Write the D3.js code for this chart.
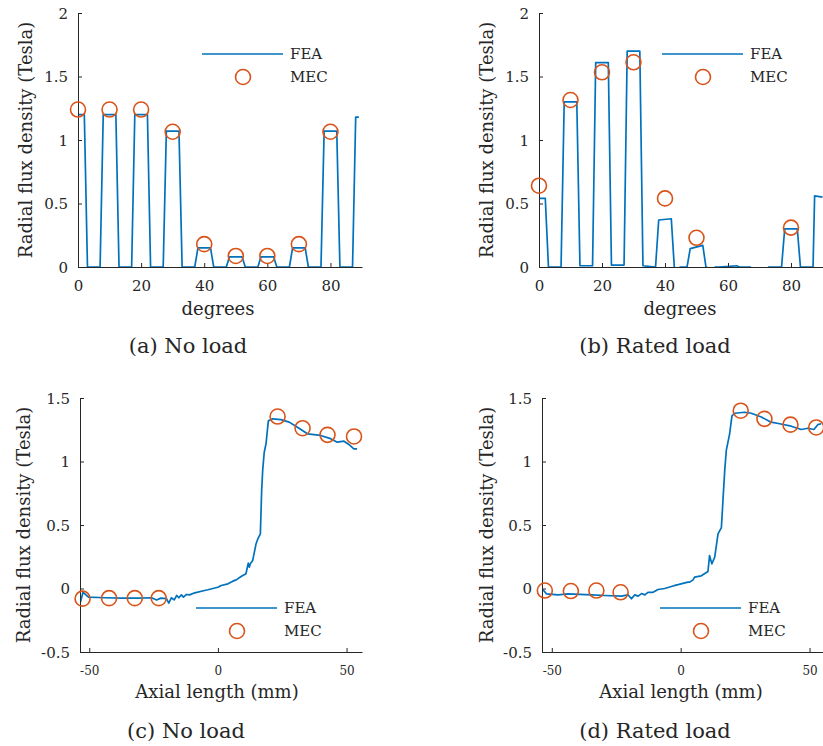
<!DOCTYPE html>
<html>
<head>
<meta charset="utf-8">
<script src="https://cdnjs.cloudflare.com/ajax/libs/d3/7.8.5/d3.min.js"></script>
<style>
  body { margin: 0; background: #fff; }
  text { font-family: "DejaVu Serif", "Liberation Serif", serif; fill: #262626; }
</style>
</head>
<body>
<svg id="chart" width="823" height="746"></svg>
<script>
// ---- data ----
var angleTicks = [0, 20, 40, 60, 80];
var angleFluxTicks = [0, 0.5, 1, 1.5, 2];
var axialTicks = [-50, 0, 50];
var axialFluxTicks = [-0.5, 0, 0.5, 1, 1.5];

// (a) no load, radial flux vs angle
var noLoadAngle = [0, 2, 3, 7, 8, 12, 13, 17, 18, 22, 23, 27, 28, 32, 33, 37, 38, 42, 43, 47,
    48, 52, 53, 57, 58, 62, 63, 67, 68, 72, 73, 77, 78, 82, 83, 87, 88, 89];
var noLoadFEA = [1.2, 1.2, 0, 0, 1.2, 1.2, 0, 0, 1.2, 1.2, 0, 0, 1.07, 1.07, 0, 0, 0.15, 0.15, 0, 0,
    0.08, 0.08, 0, 0, 0.08, 0.08, 0, 0, 0.15, 0.15, 0, 0, 1.07, 1.07, 0, 0, 1.18, 1.18];
var noLoadMecAngle = [0, 10, 20, 30, 40, 50, 60, 70, 80];
var noLoadMEC = [1.24, 1.24, 1.24, 1.065, 0.18, 0.087, 0.087, 0.18, 1.065];

// (b) rated load, radial flux vs angle
var ratedAngle = [0, 2, 3, 7, 8, 12, 13, 17, 18, 22, 23, 27, 28, 32, 33, 37, 38, 42, 43, 45,
    47, 48, 52, 53, 55, 56, 57, 60.5, 62.7, 63.7, 67, 68, 72, 73, 77, 78, 82, 83, 87, 87.5, 90];
var ratedFEA = [0.54, 0.54, 0, 0, 1.3, 1.3, 0.01, 0.01, 1.61, 1.61, 0.015, 0.015, 1.7, 1.7, 0.01, 0, 0.37, 0.38, -0.02, 0,
    0, 0.145, 0.17, 0, -0.02, 0, 0, 0.005, 0.01, 0, 0, -0.02, -0.02, 0, 0, 0.3, 0.3, 0, 0, 0.56, 0.55];
var ratedMecAngle = [0, 10, 20, 30, 40, 50, 80];
var ratedMEC = [0.64, 1.315, 1.533, 1.612, 0.54, 0.23, 0.31];

// (c) no load, radial flux vs axial length
var axialNoLoadPos = [-53.5, -52.4, -50.3, -43.8, -37.4, -30.9, -25.8, -23.8, -22.2, -20, -19.1, -18.1, -17, -16,
    -15.2, -14.2, -13.4, -12.2, -11, -9, -5.2, -3.9, 0, 1.3, 3.9, 5.8, 7.1, 9, 10.9, 11.8, 12.2, 12.6, 13.5,
    14.8, 15.5, 16.5, 17, 17.4, 18, 18.7, 19.6, 21.3, 24.5, 27.7, 30.9, 34.8, 39.9, 43.8, 46.4, 49, 50.9, 52.8, 54.1];
var axialNoLoadFEA = [-0.11, -0.03, -0.068, -0.073, -0.076, -0.076, -0.073, -0.09, -0.076, -0.08, -0.115, -0.073, -0.09, -0.055,
    -0.073, -0.05, -0.068, -0.047, -0.05, -0.034, -0.016, -0.01, 0.01, 0.024, 0.037, 0.058, 0.068, 0.094, 0.116, 0.2, 0.168, 0.194, 0.22,
    0.35, 0.39, 0.43, 0.77, 0.93, 1.073, 1.14, 1.32, 1.336, 1.33, 1.31, 1.27, 1.218, 1.205, 1.18, 1.152, 1.16, 1.134, 1.1, 1.1];
var axialNoLoadMecPos = [-52.6, -42.3, -32.3, -23, 23.2, 32.9, 42.6, 52.9];
var axialNoLoadMEC = [-0.08, -0.076, -0.076, -0.076, 1.354, 1.262, 1.21, 1.197];

// (d) rated load, radial flux vs axial length
var axialRatedPos = [-53.4, -52.1, -47.6, -43.7, -34.6, -29.5, -23, -20.4, -19.1, -17.8, -16.5, -15.2, -13.9, -12.7,
    -10.7, -8.8, -6.2, -2.3, -1, 2.8, 3.5, 4.8, 5.4, 8, 10.6, 11.2, 12.1, 13.2, 14.5, 15.8, 16.4, 17.1, 17.7,
    19, 19.9, 20.9, 24.8, 27.4, 31.3, 35.1, 38.4, 42.9, 46.8, 49.3, 51.7, 53.2, 54.5];
var axialRatedFEA = [-0.01, -0.042, -0.05, -0.042, -0.05, -0.055, -0.06, -0.05, -0.081, -0.05, -0.06, -0.04, -0.05, -0.03,
    -0.03, -0.008, 0, 0.024, 0.03, 0.05, 0.05, 0.068, 0.09, 0.1, 0.134, 0.26, 0.194, 0.246, 0.43, 0.48, 0.69, 0.93, 1.087,
    1.218, 1.36, 1.38, 1.388, 1.38, 1.35, 1.31, 1.297, 1.278, 1.252, 1.262, 1.252, 1.29, 1.297];
var axialRatedMecPos = [-52.7, -42.6, -32.7, -23.3, 23.3, 32.5, 42.6, 52.6];
var axialRatedMEC = [-0.016, -0.02, -0.016, -0.03, 1.4, 1.336, 1.29, 1.268];

var feaColor = "#0072BD";
var mecColor = "#D95319";
var axisColor = "#262626";

var svg = d3.select("#chart");
svg.append("rect").attr("width", 823).attr("height", 746).attr("fill", "#fff");

function fmt(v) {
    return String(v);
}

function drawPanel(p) {
    var x = d3.scaleLinear().domain(p.xDomain).range(p.xRange);
    var y = d3.scaleLinear().domain(p.yDomain).range(p.yRange);
    var g = svg.append("g").attr("id", p.id);

    var clipId = "clip-" + p.id;
    g.append("clipPath").attr("id", clipId)
        .append("rect")
        .attr("x", p.xRange[0])
        .attr("y", p.yRange[1])
        .attr("width", p.xRange[1] - p.xRange[0] + 2)
        .attr("height", p.yRange[0] - p.yRange[1]);

    var pts = p.feaX.map(function (d, i) { return [d, p.feaY[i]]; });
    var line = d3.line().x(function (d) { return x(d[0]); }).y(function (d) { return y(d[1]); });

    g.append("path")
        .datum(pts)
        .attr("clip-path", "url(#" + clipId + ")")
        .attr("fill", "none")
        .attr("stroke", feaColor)
        .attr("stroke-width", 1.7)
        .attr("stroke-linejoin", "round")
        .attr("d", line);

    // axes: left and bottom only, ticks pointing inward
    var xAxis = d3.axisBottom(x).tickValues(p.xTicks).tickSizeInner(-4).tickSizeOuter(0).tickFormat(fmt);
    var yAxis = d3.axisLeft(y).tickValues(p.yTicks).tickSizeInner(-4).tickSizeOuter(0).tickFormat(fmt);

    var gx = g.append("g").attr("transform", "translate(0," + p.yRange[0] + ")").call(xAxis);
    var gy = g.append("g").attr("transform", "translate(" + p.xRange[0] + ",0)").call(yAxis);

    [gx, gy].forEach(function (a) {
        a.select(".domain").attr("stroke", axisColor).attr("stroke-width", 1);
        a.selectAll(".tick line").attr("stroke", axisColor).attr("stroke-width", 1);
        a.selectAll("text").attr("fill", axisColor).attr("font-family", null);
    });
    gx.selectAll("text").attr("font-size", p.xTickSize).attr("y", p.xTickDy).attr("dy", "0.35em");
    gy.selectAll("text").attr("font-size", 15).attr("x", -10).attr("dy", "0.35em");

    // MEC markers
    g.selectAll("circle.mec")
        .data(p.mecX.map(function (d, i) { return [d, p.mecY[i]]; }))
        .enter().append("circle")
        .attr("class", "mec")
        .attr("cx", function (d) { return x(d[0]); })
        .attr("cy", function (d) { return y(d[1]); })
        .attr("r", 7.5)
        .attr("fill", "none")
        .attr("stroke", mecColor)
        .attr("stroke-width", 1.6);

    // legend
    var lg = g.append("g").attr("transform", "translate(" + p.legend[0] + "," + p.legend[1] + ")");
    lg.append("line")
        .attr("x1", 0).attr("x2", 81).attr("y1", 0).attr("y2", 0)
        .attr("stroke", feaColor).attr("stroke-width", 1.7);
    lg.append("text").attr("x", 88).attr("y", 0).attr("dy", "0.35em")
        .attr("font-size", 15).attr("fill", "#000").text("FEA");
    lg.append("circle").attr("cx", 41).attr("cy", 23).attr("r", 7.5)
        .attr("fill", "none").attr("stroke", mecColor).attr("stroke-width", 1.6);
    lg.append("text").attr("x", 88).attr("y", 23).attr("dy", "0.35em")
        .attr("font-size", 15).attr("fill", "#000").text("MEC");

    // axis titles and caption
    var midY = (p.yRange[0] + p.yRange[1]) / 2;
    g.append("text")
        .attr("transform", "translate(" + p.yLabelX + "," + midY + ") rotate(-90)")
        .attr("text-anchor", "middle")
        .attr("dy", "0.35em")
        .attr("font-size", 18)
        .text("Radial flux density (Tesla)");

    g.append("text")
        .attr("x", p.labelX).attr("y", p.xLabelY)
        .attr("text-anchor", "middle").attr("dy", "0.35em")
        .attr("font-size", 18)
        .text(p.xLabel);

    g.append("text")
        .attr("x", p.captionX).attr("y", p.captionY)
        .attr("text-anchor", "middle").attr("dy", "0.35em")
        .attr("font-size", 21)
        .attr("fill", "#000")
        .text(p.caption);
}

drawPanel({
    id: "a", xDomain: [0, 90], xRange: [78, 362], yDomain: [0, 2], yRange: [267, 13],
    xTicks: angleTicks, yTicks: angleFluxTicks, xTickSize: 15, xTickDy: 19,
    feaX: noLoadAngle, feaY: noLoadFEA, mecX: noLoadMecAngle, mecY: noLoadMEC,
    legend: [202, 54], yLabelX: 26, labelX: 218, xLabelY: 309, xLabel: "degrees",
    captionX: 188, captionY: 346, caption: "(a) No load"
});

drawPanel({
    id: "b", xDomain: [0, 90], xRange: [539, 822.5], yDomain: [0, 2], yRange: [267, 13],
    xTicks: angleTicks, yTicks: angleFluxTicks, xTickSize: 15, xTickDy: 19,
    feaX: ratedAngle, feaY: ratedFEA, mecX: ratedMecAngle, mecY: ratedMEC,
    legend: [662, 54], yLabelX: 487, labelX: 680, xLabelY: 309, xLabel: "degrees",
    captionX: 655, captionY: 346, caption: "(b) Rated load"
});

drawPanel({
    id: "c", xDomain: [-53.6, 56], xRange: [80, 362], yDomain: [-0.5, 1.5], yRange: [652, 398],
    xTicks: axialTicks, yTicks: axialFluxTicks, xTickSize: 12, xTickDy: 19,
    feaX: axialNoLoadPos, feaY: axialNoLoadFEA, mecX: axialNoLoadMecPos, mecY: axialNoLoadMEC,
    legend: [196, 608], yLabelX: 24, labelX: 217, xLabelY: 692, xLabel: "Axial length (mm)",
    captionX: 186, captionY: 731, caption: "(c) No load"
});

drawPanel({
    id: "d", xDomain: [-53.8, 56], xRange: [542, 825], yDomain: [-0.5, 1.5], yRange: [652, 398],
    xTicks: axialTicks, yTicks: axialFluxTicks, xTickSize: 12, xTickDy: 19,
    feaX: axialRatedPos, feaY: axialRatedFEA, mecX: axialRatedMecPos, mecY: axialRatedMEC,
    legend: [660, 608], yLabelX: 487, labelX: 681, xLabelY: 692, xLabel: "Axial length (mm)",
    captionX: 655, captionY: 731, caption: "(d) Rated load"
});
</script>
</body>
</html>
